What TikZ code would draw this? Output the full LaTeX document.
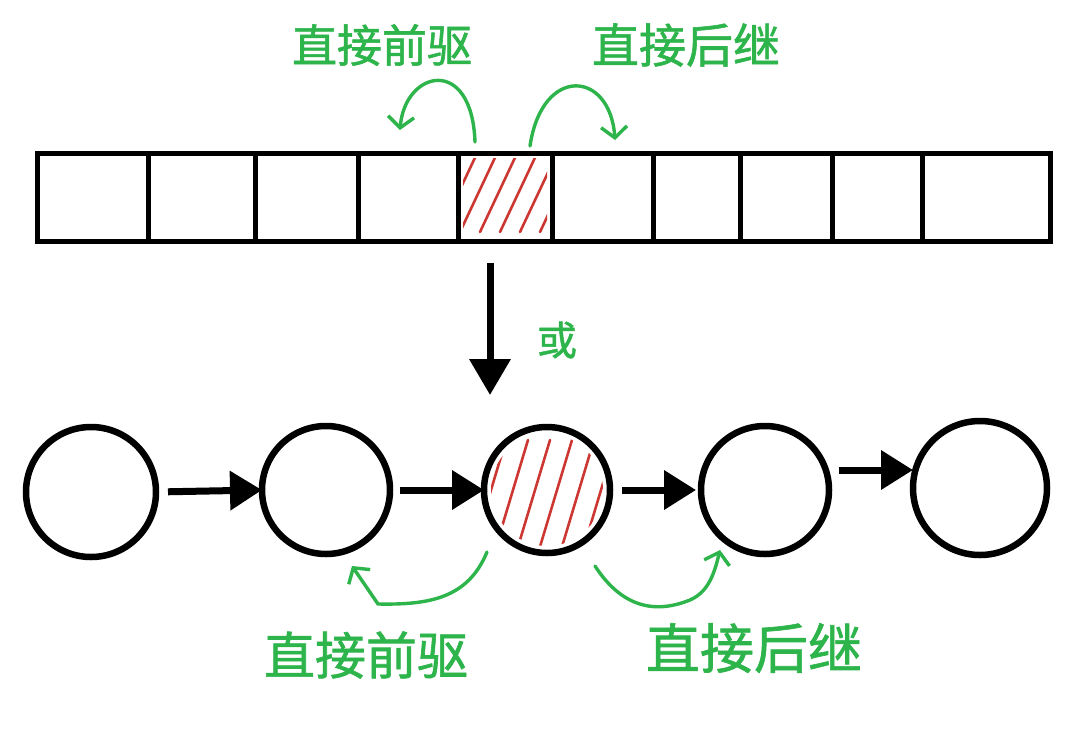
\documentclass[tikz,border=0pt]{standalone}
\usepackage{fontspec}
\newfontfamily\cjk[FakeBold=1.2]{Noto Sans CJK SC}
\usetikzlibrary{arrows.meta,calc}
\definecolor{hgreen}{RGB}{45,180,75}
\definecolor{hred}{RGB}{205,55,50}
\tikzset{
  cell/.style={draw=black,line width=5pt,minimum height=88pt,inner sep=0pt,outer sep=0pt},
  ring/.style={circle,draw=black,line width=6.5pt,inner sep=0pt,outer sep=0pt},
  link/.style={line width=7pt,-{Triangle[length=32pt,width=38pt]}},
  garrow/.style={draw=hgreen,line width=3.4pt,line cap=round,-{Straight Barb[length=11pt,width=26pt,line width=3.4pt]}},
  glabel/.style={text=hgreen,inner sep=0pt},
  hatch/.style={draw=hred,line width=2.6pt,line cap=round}
}
\begin{document}
\begin{tikzpicture}[x=1pt,y=-1pt]
\useasboundingbox[fill=white] (0,0) rectangle (1077,737);
% array cells
\foreach \n/\a/\b in {1/37/148,2/148/255,3/255/358,4/358/458,5/458/552,6/552/653,7/653/740,8/740/832,9/832/922,10/922/1050}{
  \node[cell,minimum width={\b-\a}] (a\n) at ({(\a+\b)/2},197) {};
}
% hatching in highlighted cell
\begin{scope}
  \clip (463,158) rectangle (547,236);
  \foreach \x in {420,440,...,560}{
    \draw[hatch] (\x,232) -- ++(40,-85);
  }
\end{scope}
% circles
\node[ring,minimum size=130pt] (c1) at (91,492) {};
\node[ring,minimum size=128pt] (c2) at (326,490) {};
\node[ring,minimum size=126pt] (c3) at (547,490) {};
\node[ring,minimum size=128pt] (c4) at (765,490) {};
\node[ring,minimum size=134pt] (c5) at (980,488) {};
\begin{scope}
  \clip (547,490) circle (56);
  \foreach \x in {470,492,...,620}{
    \draw[hatch] (\x,560) -- ++(36,-120);
  }
\end{scope}
% links
\draw[link,shorten <=12pt,shorten >=0pt] (c1.east) -- (c2.west);
\draw[link,shorten <=10pt,shorten >=0pt] (c2.east) -- (c3.west);
\draw[link,shorten <=12pt,shorten >=5pt] (c3.east) -- (c4.west);
\draw[link,shorten <=10pt,shorten >=0pt] ($(c4.east)+(0,-20)$) -- ($(c5.west)+(0,-18)$);
% vertical arrow
\draw[line width=7pt,-{Triangle[length=36pt,width=40pt]},shorten <=22pt,shorten >=32pt] (a5.south -| 490,0) -- (c3.north -| 490,0);
\node[glabel,font=\cjk\fontsize{40}{48}\selectfont] (or) at (557,340) {或};
% top labels
\node[glabel,font=\cjk\fontsize{45}{54}\selectfont] (tp) at (382,45) {直接前驱};
\node[glabel,font=\cjk\fontsize{47}{56}\selectfont] (ts) at (686,45) {直接后继};
\coordinate (tpa) at (475,142);
\coordinate (tpb) at (400,130);
\coordinate (tsa) at (530,146);
\coordinate (tsb) at (615,140);
\draw[garrow] (tpa) .. controls (472,55) and (405,70) .. (tpb);
\draw[garrow] (tsa) .. controls (542,65) and (610,70) .. (tsb);
% bottom labels
\node[glabel,font=\cjk\fontsize{51}{60}\selectfont] (bp) at (366,655) {直接前驱};
\node[glabel,font=\cjk\fontsize{54}{64}\selectfont] (bs) at (754,648) {直接后继};
\coordinate (bpa) at (487,552);
\coordinate (bpb) at (352,566);
\coordinate (bsa) at (595,566);
\coordinate (bsb) at (720,550);
\draw[garrow] (bpa) .. controls (468,598) and (430,605) .. (378,604) -- (bpb);
\draw[garrow] (bsa) .. controls (625,612) and (660,612) .. (690,600) .. controls (708,592) and (714,575) .. (bsb);
\end{tikzpicture}
\end{document}
